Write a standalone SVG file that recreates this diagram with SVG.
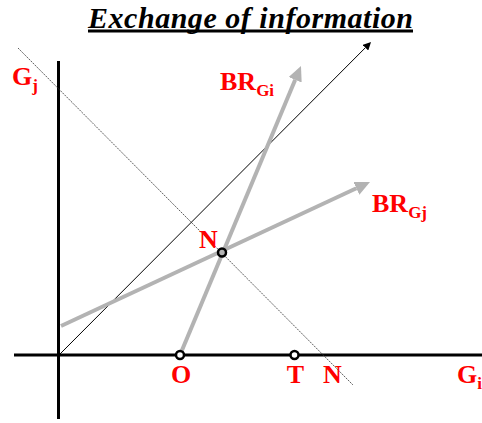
<svg xmlns="http://www.w3.org/2000/svg" width="482" height="423" viewBox="0 0 482 423">
<style>
.lbl{font-family:"Liberation Serif","Times New Roman",serif;font-weight:bold;fill:#ff0000;font-size:26px}
.sub{font-size:17px}
.axis{stroke:#000;stroke-width:3;fill:none}
.br{stroke:#b3b3b3;stroke-width:4;fill:none}
.pt{stroke:#000;stroke-width:2.5}
</style>
<defs>
<marker id="ag" markerUnits="userSpaceOnUse" markerWidth="16" markerHeight="14" refX="0" refY="7" orient="auto">
<path d="M0,0 L15,7 L0,14 z" fill="#b3b3b3"/>
</marker>
<marker id="ab" markerUnits="userSpaceOnUse" markerWidth="9" markerHeight="8" refX="0" refY="4" orient="auto">
<path d="M0,0 L8,4 L0,8 z" fill="#000"/>
</marker>
</defs>
<rect width="482" height="423" fill="#fff"/>
<g id="title">
<text x="88" y="27.5" textLength="325" lengthAdjust="spacing" font-family="'Liberation Serif','Times New Roman',serif" font-weight="bold" font-style="italic" font-size="30">Exchange of information</text>
<line x1="88" y1="31" x2="413" y2="31" stroke="#000" stroke-width="3"/>
</g>
<g id="connectors">
<line id="y-axis" class="axis" x1="58.5" y1="61" x2="58.5" y2="419"/>
<line id="x-axis" class="axis" x1="14" y1="355" x2="482" y2="355"/>
<line id="nn-line" x1="18" y1="48" x2="353" y2="385" stroke="#333" stroke-width="0.8" stroke-dasharray="2 1"/>
<line id="diag" x1="59" y1="355" x2="365.4" y2="47.7" stroke="#000" stroke-width="1" marker-end="url(#ab)"/>
<line id="br-gi" class="br" x1="180" y1="355" x2="295.2" y2="79.8" marker-end="url(#ag)"/>
<line id="br-gj" class="br" x1="61" y1="326" x2="356.4" y2="188.3" marker-end="url(#ag)"/>
</g>
<g id="node-O">
<circle class="pt" cx="180" cy="355" r="4" fill="#fff"/>
<text class="lbl" x="181" y="383" text-anchor="middle">O</text>
</g>
<g id="node-T">
<circle class="pt" cx="294.5" cy="355" r="4" fill="#fff"/>
<text class="lbl" x="295.5" y="383" text-anchor="middle">T</text>
</g>
<g id="node-N">
<circle class="pt" cx="222" cy="252.5" r="4" fill="#b3b3b3"/>
<text class="lbl" x="199" y="248">N</text>
</g>
<g id="label-N-axis"><text class="lbl" x="323" y="383">N</text></g>
<g id="label-Gj"><text class="lbl" x="12" y="85">G<tspan class="sub" dy="6">j</tspan></text></g>
<g id="label-Gi"><text class="lbl" x="457" y="383">G<tspan class="sub" dy="6">i</tspan></text></g>
<g id="label-BRGi"><text class="lbl" x="220" y="90">BR<tspan class="sub" dy="6">Gi</tspan></text></g>
<g id="label-BRGj"><text class="lbl" x="372" y="212">BR<tspan class="sub" dy="6">Gj</tspan></text></g>
</svg>
